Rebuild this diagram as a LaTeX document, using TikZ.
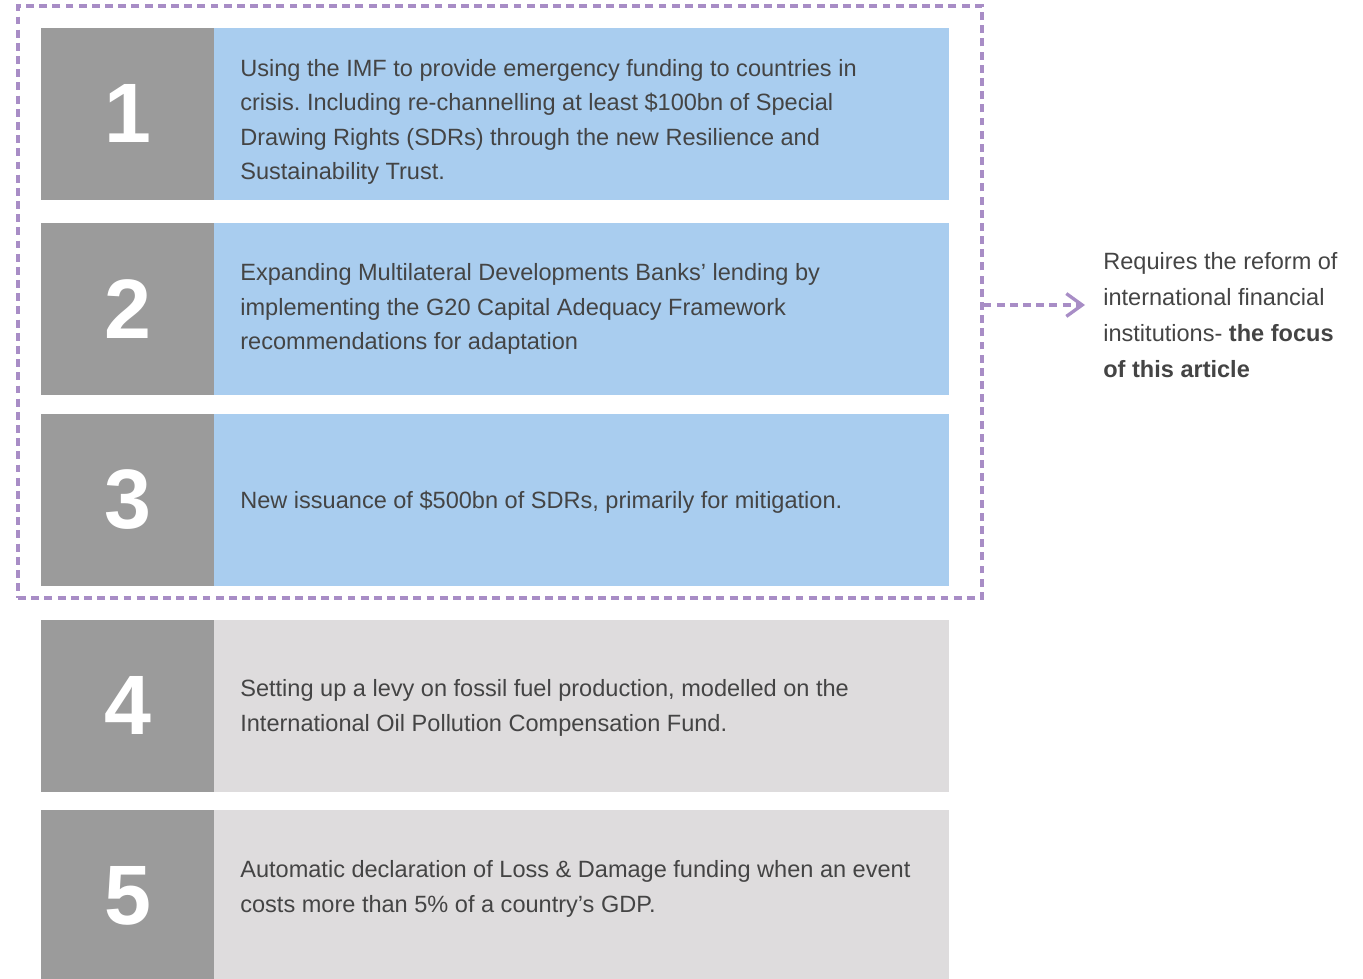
\documentclass[tikz,border=0pt]{standalone}
\usepackage{fontspec}
\setmainfont{Liberation Sans}
\usepackage{xcolor}
\usetikzlibrary{arrows.meta}
\definecolor{numgray}{HTML}{9B9B9B}
\definecolor{imfblue}{HTML}{A9CDEF}
\definecolor{levygray}{HTML}{DEDCDD}
\definecolor{framepurple}{HTML}{A88DC6}
\definecolor{textgray}{HTML}{444444}
\frenchspacing

\begin{document}
\begin{tikzpicture}[x=0.02cm,y=-0.02cm,
    numbox/.style={fill=numgray, text=white, inner sep=0, outer sep=0, anchor=north west,
        minimum width=3.46cm, minimum height=3.44cm, font=\fontsize{48}{48}\selectfont\bfseries},
    bluebox/.style={fill=imfblue, inner sep=0, outer sep=0, anchor=north west,
        minimum width=14.7cm, minimum height=3.44cm},
    graybox/.style={bluebox, fill=levygray},
    itemtext/.style={anchor=west, align=left, inner sep=0, text=textgray,
        font=\fontsize{13.4}{19.5}\selectfont},
    frame/.style={draw=framepurple, line width=1.9pt, dash pattern=on 4.5pt off 3pt,
        minimum width=19.28cm, minimum height=11.84cm, inner sep=0},
    link/.style={draw=framepurple, line width=1.9pt, dash pattern=on 4.5pt off 3pt,
        -{Straight Barb[length=9pt,width=13pt,line width=1.9pt]}}
]
\useasboundingbox (0,0) rectangle (1363,979);
% the three measures that need the IFIs
\node[frame] (focus) at (500,302) {};
\node[numbox] (n1) at (41,28) {1};
\node[bluebox] (b1) at (214,28) {};
\node[itemtext] (t1) at (240,122) {Using the IMF to provide emergency funding to countries in\\crisis. Including re-channelling at least \$100bn of Special\\Drawing Rights (SDRs) through the new Resilience and\\Sustainability Trust.};
\node[numbox] (n2) at (41,223) {2};
\node[bluebox] (b2) at (214,223) {};
\node[itemtext] (t2) at (240,309) {Expanding Multilateral Developments Banks' lending by\\implementing the G20 Capital Adequacy Framework\\recommendations for adaptation};
\node[numbox] (n3) at (41,414) {3};
\node[bluebox] (b3) at (214,414) {};
\node[itemtext] (t3) at (240,502) {New issuance of \$500bn of SDRs, primarily for mitigation.};
% the other two
\node[numbox] (n4) at (41,620) {4};
\node[graybox] (b4) at (214,620) {};
\node[itemtext] (t4) at (240,708) {Setting up a levy on fossil fuel production, modelled on the\\International Oil Pollution Compensation Fund.};
\node[numbox] (n5) at (41,810) {5};
\node[graybox] (b5) at (214,810) {};
\node[itemtext] (t5) at (240,889) {Automatic declaration of Loss \& Damage funding when an event\\costs more than 5\% of a country's GDP.};
% side note
\node[itemtext, font=\fontsize{13.4}{20.4}\selectfont] (note) at (1103,315) {Requires the reform of\\international financial\\institutions- \textbf{the focus}\\\textbf{of this article}};
\coordinate (tip) at (1085,305);
\draw[link] (focus.east |- tip) -- (tip);
\end{tikzpicture}
\end{document}
